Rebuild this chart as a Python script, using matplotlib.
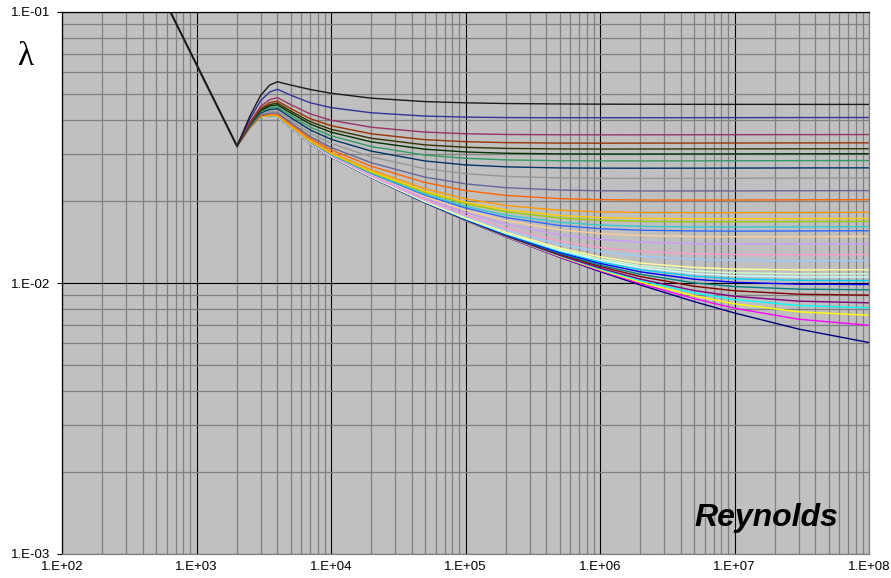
import numpy as np
import matplotlib
matplotlib.use("Agg")
import matplotlib.pyplot as plt
from matplotlib.ticker import LogLocator, NullFormatter

# Reynolds numbers where the curves were read
reynolds = [2000, 2500, 3000, 3500, 4000, 5000, 7000, 1e4, 2e4, 5e4, 1e5, 2e5, 5e5, 1e6,
            2e6, 5e6, 1e7, 3e7, 1e8]

# laminar branch (64/Re)
laminar_re = [640, 2000]
laminar_lam = [0.1, 0.032]

# lambda, in units of 1e-5, from the smoothest (bottom) to the roughest (top)
friction = [
    [3200, 3762, 4191, 4134, 4091, 3739, 3265, 2919, 2446, 1975, 1700, 1478, 1245, 1102, 983, 854, 775, 676, 603],
    [3200, 3760, 4185, 4132, 4091, 3740, 3265, 2919, 2447, 1976, 1702, 1481, 1249, 1110, 995, 876, 807, 735, 698],
    [3200, 3758, 4179, 4131, 4091, 3740, 3266, 2920, 2448, 1977, 1704, 1484, 1255, 1118, 1008, 897, 838, 783, 760],
    [3200, 3756, 4173, 4129, 4092, 3741, 3267, 2920, 2449, 1979, 1706, 1487, 1261, 1127, 1021, 920, 869, 826, 810],
    [3200, 3754, 4167, 4128, 4092, 3741, 3267, 2921, 2449, 1980, 1708, 1490, 1266, 1135, 1033, 938, 893, 857, 845],
    [3200, 3752, 4161, 4127, 4093, 3742, 3268, 2922, 2451, 1983, 1713, 1497, 1277, 1151, 1056, 973, 936, 909, 902],
    [3200, 3749, 4155, 4125, 4093, 3743, 3269, 2923, 2453, 1985, 1716, 1502, 1286, 1165, 1076, 1001, 970, 949, 944],
    [3200, 3748, 4149, 4124, 4094, 3743, 3270, 2925, 2455, 1988, 1721, 1509, 1298, 1182, 1099, 1033, 1006, 990, 987],
    [3200, 3745, 4143, 4123, 4095, 3744, 3271, 2926, 2456, 1991, 1726, 1516, 1309, 1197, 1119, 1059, 1036, 1023, 1021],
    [3200, 3743, 4138, 4122, 4096, 3745, 3272, 2927, 2458, 1994, 1730, 1523, 1320, 1212, 1139, 1084, 1064, 1053, 1052],
    [3200, 3741, 4132, 4121, 4097, 3746, 3273, 2929, 2460, 1998, 1735, 1529, 1331, 1227, 1158, 1108, 1091, 1081, 1081],
    [3200, 3740, 4127, 4120, 4098, 3748, 3275, 2931, 2463, 2002, 1742, 1539, 1346, 1249, 1185, 1141, 1126, 1118, 1119],
    [3200, 3739, 4123, 4122, 4102, 3752, 3280, 2937, 2472, 2016, 1762, 1568, 1391, 1307, 1256, 1223, 1213, 1209, 1211],
    [3200, 3737, 4119, 4123, 4105, 3755, 3285, 2942, 2479, 2028, 1779, 1593, 1427, 1351, 1308, 1281, 1274, 1272, 1274],
    [3200, 3738, 4118, 4129, 4113, 3765, 3296, 2955, 2498, 2058, 1820, 1649, 1506, 1447, 1415, 1397, 1393, 1393, 1396],
    [3200, 3738, 4117, 4134, 4120, 3773, 3306, 2968, 2515, 2085, 1857, 1699, 1572, 1523, 1497, 1484, 1482, 1483, 1486],
    [3200, 3738, 4116, 4139, 4128, 3781, 3316, 2979, 2532, 2110, 1892, 1743, 1630, 1587, 1566, 1556, 1554, 1556, 1559],
    [3200, 3737, 4114, 4142, 4134, 3789, 3324, 2990, 2546, 2131, 1920, 1780, 1675, 1636, 1618, 1610, 1609, 1611, 1614],
    [3200, 3738, 4114, 4149, 4144, 3799, 3337, 3005, 2566, 2163, 1962, 1831, 1737, 1704, 1689, 1683, 1683, 1685, 1688],
    [3200, 3738, 4111, 4153, 4150, 3806, 3346, 3015, 2580, 2183, 1988, 1863, 1775, 1744, 1731, 1726, 1726, 1728, 1731],
    [3200, 3740, 4115, 4164, 4164, 3822, 3365, 3038, 2611, 2229, 2046, 1933, 1856, 1831, 1821, 1817, 1817, 1820, 1823],
    [3200, 3750, 4135, 4199, 4204, 3868, 3419, 3101, 2696, 2349, 2194, 2104, 2048, 2031, 2024, 2023, 2024, 2027, 2030],
    [3200, 3760, 4155, 4233, 4244, 3912, 3472, 3163, 2777, 2458, 2322, 2247, 2203, 2190, 2186, 2186, 2187, 2190, 2193],
    [3200, 3780, 4198, 4298, 4318, 3994, 3568, 3275, 2919, 2641, 2531, 2474, 2442, 2434, 2432, 2433, 2435, 2437, 2440],
    [3200, 3803, 4244, 4368, 4397, 4082, 3671, 3392, 3065, 2820, 2728, 2683, 2658, 2653, 2652, 2653, 2655, 2658, 2660],
    [3200, 3822, 4283, 4430, 4468, 4160, 3761, 3494, 3187, 2965, 2885, 2846, 2826, 2822, 2822, 2823, 2825, 2828, 2830],
    [3200, 3844, 4327, 4498, 4545, 4245, 3859, 3603, 3316, 3116, 3045, 3011, 2995, 2992, 2992, 2994, 2995, 2998, 3000],
    [3200, 3861, 4361, 4553, 4610, 4315, 3938, 3692, 3419, 3233, 3169, 3138, 3124, 3121, 3122, 3124, 3125, 3128, 3130],
    [3200, 3884, 4407, 4627, 4694, 4407, 4042, 3806, 3551, 3380, 3322, 3296, 3283, 3281, 3282, 3284, 3286, 3288, 3290],
    [3200, 3924, 4488, 4748, 4831, 4556, 4208, 3988, 3755, 3604, 3555, 3532, 3523, 3521, 3522, 3524, 3526, 3528, 3530],
    [3200, 4033, 4712, 5067, 5186, 4936, 4626, 4437, 4247, 4130, 4094, 4078, 4072, 4072, 4073, 4075, 4076, 4078, 4080],
    [3200, 4140, 4926, 5375, 5529, 5378, 5177, 5014, 4808, 4671, 4622, 4595, 4578, 4571, 4567, 4564, 4562, 4561, 4560],
]

colors = ['#000080', '#FF00FF', '#FFFF00', '#00FFFF', '#800080', '#800000', '#008080', '#0000FF',
          '#00CCFF', '#CCFFFF', '#CCFFCC', '#FFFF99', '#99CCFF', '#FF99CC', '#CC99FF', '#FFCC99',
          '#3366FF', '#33CCCC', '#99CC00', '#FFCC00', '#FF9900', '#FF6600', '#666699', '#969696',
          '#003366', '#339966', '#003300', '#333300', '#993300', '#993366', '#333399', '#1a1a1a']

xticks = [1e2, 1e3, 1e4, 1e5, 1e6, 1e7, 1e8]
xlabels = ['1.E+02', '1.E+03', '1.E+04', '1.E+05', '1.E+06', '1.E+07', '1.E+08']
yticks = [1e-3, 1e-2, 1e-1]
ylabels = ['1.E-03', '1.E-02', '1.E-01']


def setupAxes(fig):
    ax = fig.add_axes([62 / 891, 1 - 554 / 578, 807 / 891, 542 / 578])
    ax.set_facecolor('#C0C0C0')
    ax.set_xscale('log')
    ax.set_yscale('log')
    ax.set_xlim(1e2, 1e8)
    ax.set_ylim(1e-3, 1e-1)

    ax.xaxis.set_minor_locator(LogLocator(base=10, subs=np.arange(2, 10)))
    ax.yaxis.set_minor_locator(LogLocator(base=10, subs=np.arange(2, 10)))
    ax.xaxis.set_minor_formatter(NullFormatter())
    ax.yaxis.set_minor_formatter(NullFormatter())
    ax.set_xticks(xticks)
    ax.set_xticklabels(xlabels)
    ax.set_yticks(yticks)
    ax.set_yticklabels(ylabels)
    ax.tick_params(axis='x', which='major', length=0, pad=5, labelsize=9.5)
    ax.tick_params(axis='y', which='major', length=3.5, width=0.8, pad=5, labelsize=9.5)
    ax.tick_params(which='minor', length=0)

    ax.grid(which='minor', color='#808080', lw=0.9)
    ax.grid(which='major', color='black', lw=0.8)
    ax.set_axisbelow(True)
    for side in ['left', 'top']:
        ax.spines[side].set_color('black')
        ax.spines[side].set_linewidth(0.9)
    for side in ['bottom', 'right']:
        ax.spines[side].set_color('#808080')
        ax.spines[side].set_linewidth(0.9)
    return ax


if __name__ == '__main__':
    plt.rcParams['font.family'] = ['Liberation Sans', 'DejaVu Sans']
    fig = plt.figure(figsize=(8.91, 5.78), dpi=100)
    ax = setupAxes(fig)

    ax.plot(laminar_re, laminar_lam, color='#1a1a1a', lw=1.5)
    for row, c in zip(friction, colors):
        ax.plot(reynolds, np.array(row) / 1e5, color=c, lw=1.0)

    fig.text(25 / 891, 1 - 57 / 578, 'λ', family='Liberation Serif', fontsize=24,
             ha='center', va='center')
    fig.text(766 / 891, 1 - 526 / 578, 'Reynolds', fontsize=23,
             fontweight='bold', fontstyle='italic', ha='center', va='baseline')
    fig.savefig("out.png")
